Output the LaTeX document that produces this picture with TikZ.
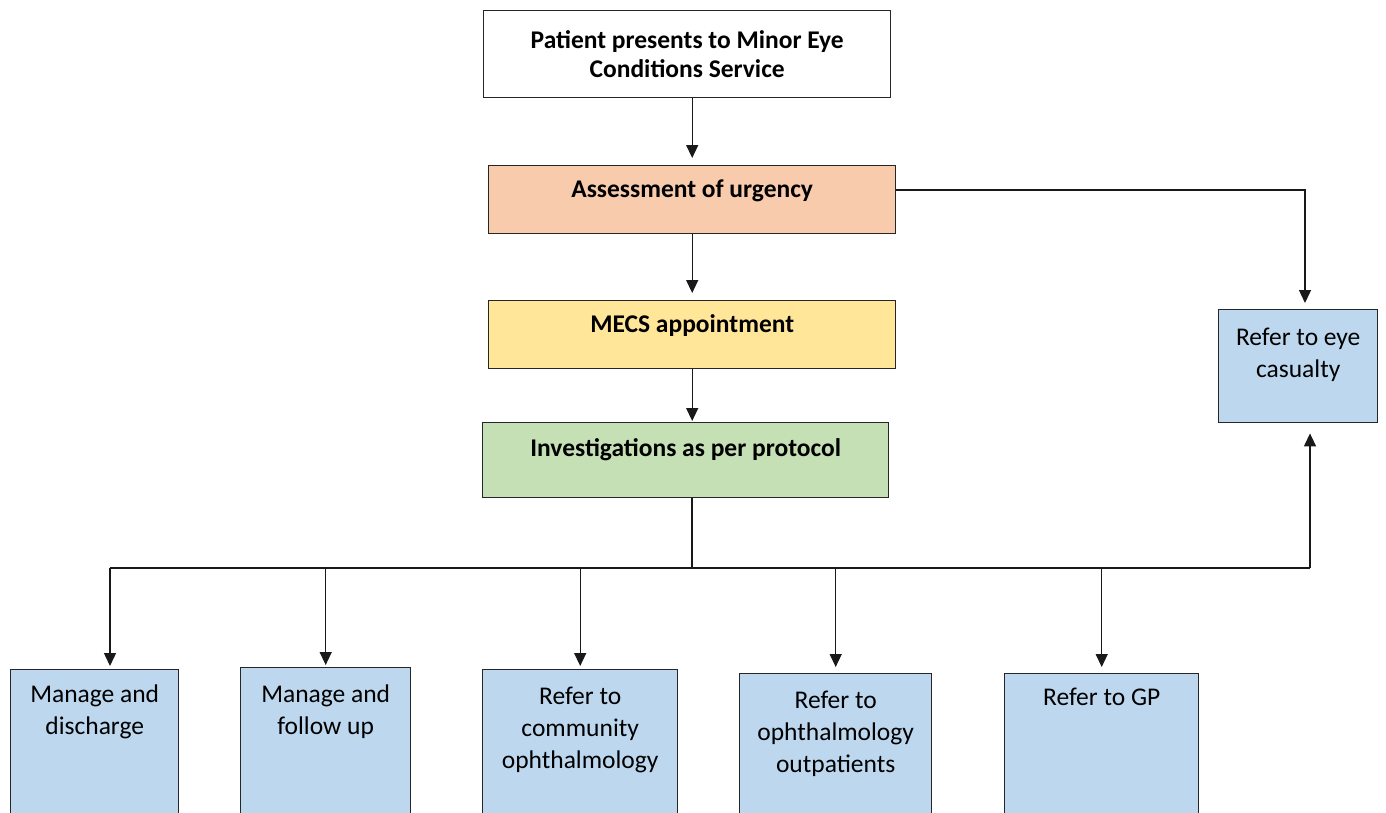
\documentclass[tikz,border=0pt]{standalone}
\usepackage{fontspec}
\setmainfont{Carlito}
\usetikzlibrary{arrows.meta}
\definecolor{peach}{HTML}{F8CBAD}
\definecolor{sand}{HTML}{FFE699}
\definecolor{sage}{HTML}{C5E0B4}
\definecolor{sky}{HTML}{BDD7EE}
\tikzset{
	box/.style={draw=black!85, line width=1.4pt, inner sep=0pt, anchor=north west},
	boldtxt/.style={inner sep=0pt, align=center, font=\fontsize{25.5}{29.5}\selectfont\bfseries},
	plaintxt/.style={inner sep=0pt, align=center, font=\fontsize{25.5}{32}\selectfont},
	link/.style={line width=1.4pt, draw=black!90},
	arr/.style={link, -{Triangle[length=13pt,width=12pt]}}
}

\begin{document}
\begin{tikzpicture}[x=1pt, y=-1pt]
			%%%%% START %%%%%
			\useasboundingbox (0,0) rectangle (1386,812);
			\clip (0,0) rectangle (1386,812);
			
			\node[box, fill=white, minimum width=407pt, minimum height=87pt] (start) at (483,10) {};
			\node[boldtxt] (startTxt) at (start.center) {Patient presents to Minor Eye\\Conditions Service};
			
			\node[box, fill=peach, minimum width=407pt, minimum height=68pt] (urgency) at (488,165) {};
			\node[boldtxt, anchor=north, yshift=-15pt] (urgencyTxt) at (urgency.north) {Assessment of urgency};
			
			\node[box, fill=sand, minimum width=407pt, minimum height=68pt] (mecs) at (488,300) {};
			\node[boldtxt, anchor=north, yshift=-14pt] (mecsTxt) at (mecs.north) {MECS appointment};
			
			\node[box, fill=sage, minimum width=406pt, minimum height=75pt] (invest) at (482,422) {};
			\node[boldtxt, anchor=north, yshift=-16pt] (investTxt) at (invest.north) {Investigations as per protocol};
			
			\node[box, fill=sky, minimum width=159pt, minimum height=113pt] (eye) at (1218,309) {};
			\node[plaintxt, anchor=north, yshift=-19pt] (eyeTxt) at (eye.north) {Refer to eye\\casualty};
			
			% outcomes, cut off at the bottom edge
			\node[box, fill=sky, minimum width=168pt, minimum height=170pt] (dis) at (10,669) {};
			\node[plaintxt, anchor=north, yshift=-16pt] (disTxt) at (dis.north) {Manage and\\discharge};
			
			\node[box, fill=sky, minimum width=170pt, minimum height=170pt] (fol) at (240,667) {};
			\node[plaintxt, anchor=north, yshift=-18pt] (folTxt) at (fol.north) {Manage and\\follow up};
			
			\node[box, fill=sky, minimum width=195pt, minimum height=170pt] (com) at (482,669) {};
			\node[plaintxt, anchor=north, yshift=-18pt] (comTxt) at (com.north) {Refer to\\community\\ophthalmology};
			
			\node[box, fill=sky, minimum width=192pt, minimum height=170pt] (out) at (739,673) {};
			\node[plaintxt, anchor=north, yshift=-18pt] (outTxt) at (out.north) {Refer to\\ophthalmology\\outpatients};
			
			\node[box, fill=sky, minimum width=194pt, minimum height=170pt] (gp) at (1004,673) {};
			\node[plaintxt, anchor=north, yshift=-15pt] (gpTxt) at (gp.north) {Refer to GP};
			
			\coordinate (turn) at (1305,190);
			\coordinate (split) at (692,568);
			\coordinate (busL) at (110,568);
			\coordinate (busR) at (1310,568);
			
			\draw[arr, shorten >=7pt] (urgency.north |- start.south) -- (urgency.north);
			\draw[arr, shorten >=7pt] (urgency.south) -- (mecs.north);
			\draw[arr, shorten >=1pt] (mecs.south) -- (mecs.south |- invest.north);
			\draw[arr, shorten >=6pt] (urgency.east |- turn) -- (turn) -- (turn |- eye.north);
			
			\draw[link] (split |- invest.south) -- (split);
			\draw[link] (busL) -- (busR);
			\draw[arr, shorten >=3pt] (busL) -- (busL |- dis.north);
			\draw[arr, shorten >=2pt] (fol.north |- busL) -- (fol.north);
			\draw[arr, shorten >=3pt] (com.north |- busL) -- (com.north);
			\draw[arr, shorten >=6pt] (out.north |- busL) -- (out.north);
			\draw[arr, shorten >=6pt] (gp.north |- busL) -- (gp.north);
			\draw[arr, shorten >=10pt] (busR) -- (busR |- eye.south);
			
			%%%%% END %%%%%
\end{tikzpicture}
\end{document}
